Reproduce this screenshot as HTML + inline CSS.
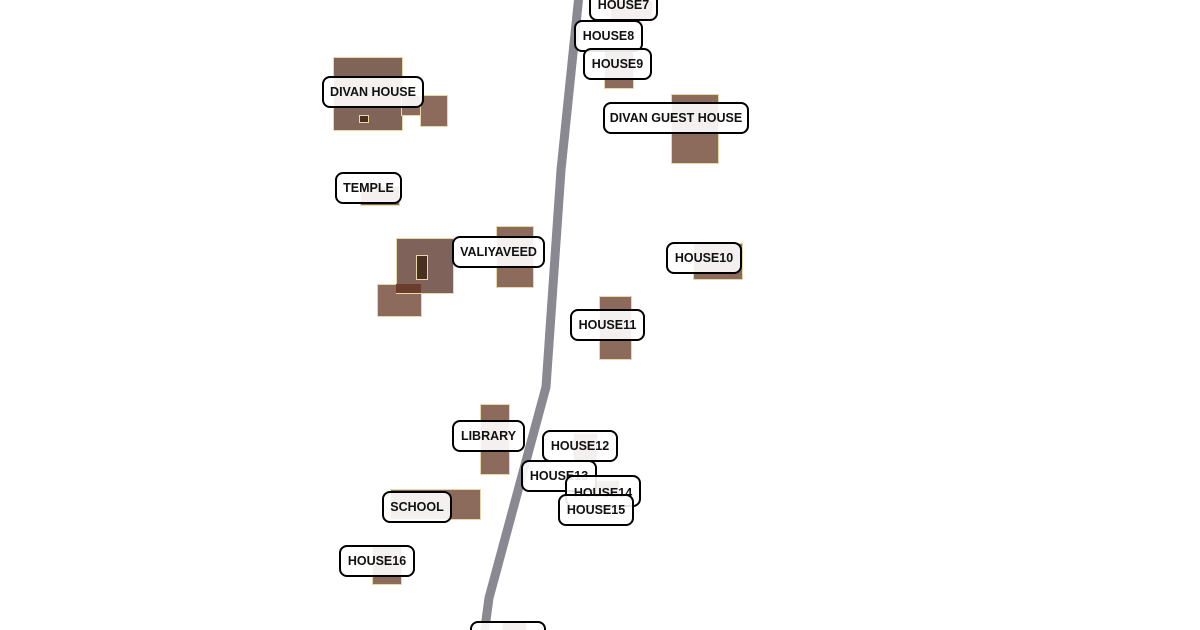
<!DOCTYPE html>
<html><head><meta charset="utf-8"><style>
html,body{margin:0;padding:0;background:#fff;}
#c{position:relative;width:1200px;height:630px;overflow:hidden;background:#fff;font-family:"Liberation Sans",Arial,sans-serif;}
.b{position:absolute;background:#8c6b5c;border:1px solid #e6d9a8;box-sizing:border-box;}
.w{position:absolute;background:#4a3020;border:1px solid #e6d9a8;box-sizing:border-box;}
.l{position:absolute;box-sizing:border-box;border:2px solid #000;border-radius:8px;background:rgba(255,255,255,0.9);font-weight:bold;font-size:12.5px;color:#111;display:flex;align-items:center;justify-content:center;white-space:nowrap;transform:translate(-1px,1px);}
svg{position:absolute;left:0;top:0;}
</style></head><body><div id="c">
<svg width="1200" height="630"><polyline points="579,-5 561,170 546,387 489,598 484,635" fill="none" stroke="#8a8890" stroke-width="9" stroke-linejoin="miter"/></svg>
<div class="b" style="left:333px;top:57px;width:70px;height:74px;background:#806458"></div>
<div class="b" style="left:401px;top:95px;width:20px;height:21px"></div>
<div class="b" style="left:420px;top:95px;width:28px;height:32px"></div>
<div class="w" style="left:359px;top:115px;width:10px;height:8px"></div>
<div class="b" style="left:671px;top:94px;width:48px;height:70px"></div>
<div class="b" style="left:360px;top:186px;width:40px;height:20px"></div>
<div class="b" style="left:377px;top:284px;width:45px;height:33px"></div>
<div class="b" style="left:396px;top:238px;width:58px;height:56px;background:rgba(120,90,80,0.95)"></div>
<div style="position:absolute;left:396px;top:284px;width:25px;height:9px;background:#6a3e2c"></div>
<div class="w" style="left:416px;top:255px;width:12px;height:25px"></div>
<div class="b" style="left:496px;top:226px;width:38px;height:62px"></div>
<div class="b" style="left:693px;top:243px;width:50px;height:37px"></div>
<div class="b" style="left:599px;top:296px;width:33px;height:64px"></div>
<div class="b" style="left:604px;top:48px;width:30px;height:41px"></div>
<div class="b" style="left:610px;top:0px;width:43px;height:20px"></div>
<div class="b" style="left:480px;top:404px;width:30px;height:71px"></div>
<div class="b" style="left:390px;top:489px;width:91px;height:31px"></div>
<div class="b" style="left:372px;top:545px;width:30px;height:40px"></div>
<div class="b" style="left:573px;top:433px;width:25px;height:28px"></div>
<div class="b" style="left:590px;top:480px;width:30px;height:30px"></div>
<div class="b" style="left:502px;top:622px;width:25px;height:10px"></div>
<div class="l" style="left:590px;top:-12px;width:69px;height:32px">HOUSE7</div>
<div class="l" style="left:575px;top:19px;width:69px;height:32px">HOUSE8</div>
<div class="l" style="left:584px;top:47px;width:69px;height:32px">HOUSE9</div>
<div class="l" style="left:323px;top:75px;width:102px;height:32px">DIVAN HOUSE</div>
<div class="l" style="left:604px;top:101px;width:146px;height:32px">DIVAN GUEST HOUSE</div>
<div class="l" style="left:336px;top:171px;width:67px;height:32px">TEMPLE</div>
<div class="l" style="left:453px;top:235px;width:93px;height:32px">VALIYAVEED</div>
<div class="l" style="left:667px;top:241px;width:76px;height:32px">HOUSE10</div>
<div class="l" style="left:571px;top:308px;width:75px;height:32px">HOUSE11</div>
<div class="l" style="left:453px;top:419px;width:73px;height:32px">LIBRARY</div>
<div class="l" style="left:543px;top:429px;width:76px;height:32px">HOUSE12</div>
<div class="l" style="left:522px;top:459px;width:76px;height:32px">HOUSE13</div>
<div class="l" style="left:566px;top:474px;width:76px;height:32px;padding-top:3px">HOUSE14</div>
<div class="l" style="left:559px;top:493px;width:76px;height:32px">HOUSE15</div>
<div class="l" style="left:383px;top:490px;width:70px;height:32px">SCHOOL</div>
<div class="l" style="left:340px;top:544px;width:76px;height:32px">HOUSE16</div>
<div class="l" style="left:471px;top:620px;width:76px;height:32px"></div>
</div></body></html>
